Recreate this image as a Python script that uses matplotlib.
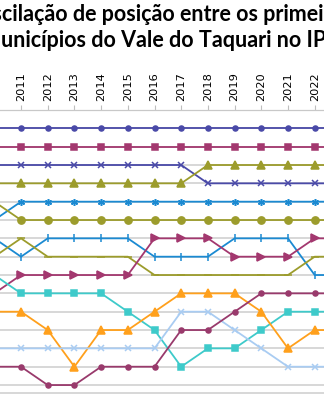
import matplotlib
matplotlib.use("Agg")
import matplotlib.pyplot as plt

# Ranking positions per year (1 = first place)
anos = [2010, 2011, 2012, 2013, 2014, 2015, 2016, 2017, 2018, 2019, 2020, 2021, 2022, 2023]
anos_rotulados = [2011, 2012, 2013, 2014, 2015, 2016, 2017, 2018, 2019, 2020, 2021, 2022]

mun_01 = [1, 1, 1, 1, 1, 1, 1, 1, 1, 1, 1, 1, 1, 1]
mun_02 = [2, 2, 2, 2, 2, 2, 2, 2, 2, 2, 2, 2, 2, 2]
mun_03 = [3, 3, 3, 3, 3, 3, 3, 3, 4, 4, 4, 4, 4, 4]
mun_04 = [4, 4, 4, 4, 4, 4, 4, 4, 3, 3, 3, 3, 3, 3]
mun_05 = [6, 5, 5, 5, 5, 5, 5, 5, 5, 5, 5, 5, 5, 5]
mun_06 = [5, 6, 6, 6, 6, 6, 6, 6, 6, 6, 6, 6, 6, 6]
mun_07 = [7, 8, 7, 7, 7, 7, 8, 8, 8, 7, 7, 7, 9, 9]
mun_08 = [8, 7, 8, 8, 8, 8, 9, 9, 9, 9, 9, 9, 8, 8]
mun_09 = [10, 9, 9, 9, 9, 9, 7, 7, 7, 8, 8, 8, 7, 7]
mun_10 = [9, 10, 10, 10, 10, 11, 12, 14, 13, 13, 12, 11, 11, 11]
mun_11 = [11, 11, 12, 14, 12, 12, 11, 10, 10, 10, 11, 13, 12, 12]
mun_12 = [13, 13, 13, 13, 13, 13, 13, 11, 11, 12, 13, 14, 14, 14]
mun_13 = [14, 14, 15, 15, 14, 14, 14, 12, 12, 11, 10, 10, 10, 10]

posicoes = list(range(1, 16))

titulo_1 = "Oscilação de posição entre os primeiros"
titulo_2 = "municípios do Vale do Taquari no IPM"

INDIGO = "#4A4AA8"
CRIMSON = "#A3386F"
OLIVE = "#9C9C2C"
BLUE = "#1B8AD2"
TEAL = "#3ECACA"
ORANGE = "#FFA01C"
LIGHTBLUE = "#A9CCF2"
PLUM = "#993A6C"

estilos = [
    (mun_01, INDIGO, "o", 3.6),
    (mun_02, CRIMSON, "s", 5.0),
    (mun_03, INDIGO, "x", 4.2),
    (mun_04, OLIVE, "^", 5.2),
    (mun_05, BLUE, (6, 2, 0), 5.0),
    (mun_06, OLIVE, "o", 5.2),
    (mun_07, BLUE, "|", 5.5),
    (mun_08, OLIVE, "_", 5.5),
    (mun_09, CRIMSON, ">", 5.2),
    (mun_10, TEAL, "s", 5.0),
    (mun_11, ORANGE, "^", 5.2),
    (mun_12, LIGHTBLUE, "x", 4.2),
    (mun_13, PLUM, "o", 3.6),
]

W, H, DPI = 324, 400, 100
fig = plt.figure(figsize=(W / DPI, H / DPI), dpi=DPI)
fig.patch.set_facecolor("white")

ax = fig.add_axes([0.0, 1 - 393.3 / H, 1.0, (393.3 - 110) / H])

for valores, cor, marcador, tam in estilos:
    ax.plot(anos, valores, color=cor, lw=1.3, marker=marcador, ms=tam,
            mfc=cor, mec=cor, mew=1.1, solid_joinstyle="round")

ax.set_xlim(2011 - 21 / 26.7, 2022 + 9.3 / 26.7)
ax.set_ylim(15.45, 0)

ax.set_yticks(posicoes)
ax.yaxis.grid(True, color="#D4D4D4", lw=1.3)
ax.set_axisbelow(True)
ax.tick_params(axis="y", left=False, labelleft=False)

ax.set_xticks(anos_rotulados)
ax.set_xticklabels([str(a) for a in anos_rotulados], rotation=90, fontsize=8.2,
                   family="DejaVu Sans")
ax.xaxis.tick_top()
ax.tick_params(axis="x", top=True, bottom=False, length=3.5, width=0.8,
               color="#BFBFBF", pad=3, labelcolor="black")

for lado in ("left", "right"):
    ax.spines[lado].set_visible(False)
ax.spines["top"].set_color("#C8C8C8")
ax.spines["top"].set_linewidth(0.9)
ax.spines["bottom"].set_color("#D4D4D4")
ax.spines["bottom"].set_linewidth(1.3)

# Title: two lines, wider than the figure; the start of each line runs off the left edge
fig.canvas.draw()
renderer = fig.canvas.get_renderer()
fonte = dict(family="Lato", weight="bold", fontsize=15.5)


def largura(txt):
    t = fig.text(0, 0, txt, **fonte)
    w = t.get_window_extent(renderer).width
    t.remove()
    return w


avanco_1 = largura("Osc") - largura("c")
avanco_2 = largura("mu") - largura("u")
x1 = (2.7 - avanco_1 - 1.0) / W
x2 = (1.7 - avanco_2 - 1.0) / W
fig.text(x1, 1 - 20.7 / H, titulo_1, ha="left", va="baseline", **fonte)
fig.text(x2, 1 - 46.7 / H, titulo_2, ha="left", va="baseline", **fonte)

fig.savefig("out.png", dpi=DPI, facecolor="white")
